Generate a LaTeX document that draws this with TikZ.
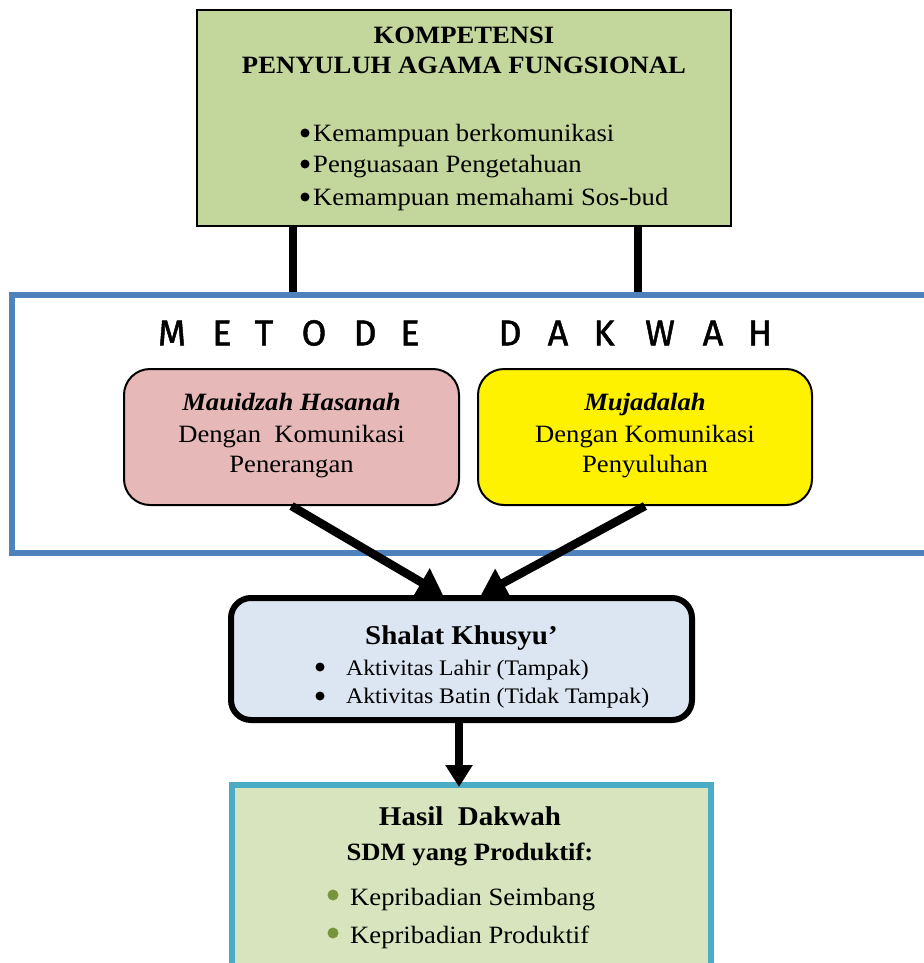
\documentclass[tikz,border=0pt]{standalone}
\usepackage{fontspec}
\setmainfont[FakeStretch=1.07]{Liberation Serif}
\newfontfamily\titlefont[FakeBold=1.3]{Fira Sans}
\usetikzlibrary{arrows.meta}
\definecolor{kgreen}{HTML}{C3D69B}
\definecolor{pinkf}{HTML}{E6B9B8}
\definecolor{frameblue}{HTML}{4F81BD}
\definecolor{shalatf}{HTML}{DCE6F2}
\definecolor{hasilb}{HTML}{4BACC6}
\definecolor{hasilf}{HTML}{D7E4BD}
\definecolor{bulgreen}{HTML}{77933C}
\tikzset{
  box/.style={draw, inner sep=0pt, rectangle},
  txt/.style={inner sep=0pt, font=\fontsize{24.9}{28}\selectfont},
  txtb/.style={inner sep=0pt, font=\fontsize{24.9}{28}\selectfont\bfseries},
  bigtitle/.style={inner sep=0pt, font=\fontsize{27.1}{30}\selectfont\bfseries},
  smalltxt/.style={inner sep=0pt, font=\fontsize{22.2}{26}\selectfont},
  letter/.style={inner sep=0pt, font=\titlefont\fontsize{36}{38}\selectfont},
  dot/.style={circle, fill=black, inner sep=0pt, minimum size=9pt},
  gdot/.style={circle, fill=bulgreen, inner sep=0pt, minimum size=11pt},
  thickline/.style={line width=8pt},
  bigarrow/.style={line width=8.5pt, -{Triangle[width=31pt,length=25pt]}},
}
\begin{document}
\begin{tikzpicture}[x=1pt,y=-1pt]
\useasboundingbox (0,0) rectangle (923,963);

% top competence box
\node[box, line width=2.5pt, fill=kgreen, minimum width=534pt, minimum height=216pt] (kbox) at (464,118) {};
\node[txtb, anchor=base] (k1) at (464,44) {KOMPETENSI};
\node[txtb, anchor=base] (k2) at (464,74) {PENYULUH AGAMA FUNGSIONAL};
\node[dot] (kd1) at (305,133) {};
\node[txt, anchor=base west] (kb1) at (313,141) {Kemampuan berkomunikasi};
\node[dot] (kd2) at (305,164) {};
\node[txt, anchor=base west] (kb2) at (313,172) {Penguasaan Pengetahuan};
\node[dot] (kd3) at (305,197) {};
\node[txt, anchor=base west] (kb3) at (313,205) {Kemampuan memahami Sos-bud};

% method frame
\node[box, draw=frameblue, line width=6pt, minimum width=928pt, minimum height=258pt] (frame) at (476,424) {};
\coordinate (c1) at (293,0);
\coordinate (c2) at (638,0);
\draw[thickline] (kbox.south -| c1) -- (frame.north -| c1);
\draw[thickline] (kbox.south -| c2) -- (frame.north -| c2);

\foreach \ch/\xx [count=\i] in {M/172,E/222,T/264,O/314,D/365,E/410,D/510,A/558,K/604,W/660,A/713,H/760}
  \node[letter] (L\i) at (\xx,333) {\ch};

% pink and yellow boxes
\node[box, line width=2pt, fill=pinkf, rounded corners=26pt, minimum width=335pt, minimum height=136pt] (pink) at (291.5,437) {};
\node[txtb, anchor=base, font=\fontsize{24.9}{28}\selectfont\bfseries\itshape] (p1) at (291.5,410) {Mauidzah Hasanah};
\node[txt, anchor=base] (p2) at (291.5,442) {Dengan\ \ Komunikasi};
\node[txt, anchor=base] (p3) at (291.5,472) {Penerangan};

\node[box, line width=2pt, fill=yellow, rounded corners=26pt, minimum width=334pt, minimum height=136pt] (yel) at (645,437) {};
\node[txtb, anchor=base, font=\fontsize{24.9}{28}\selectfont\bfseries\itshape] (y1) at (645,410) {Mujadalah};
\node[txt, anchor=base] (y2) at (645,442) {Dengan Komunikasi};
\node[txt, anchor=base] (y3) at (645,472) {Penyuluhan};

% shalat box
\node[box, line width=6pt, fill=shalatf, rounded corners=20pt, minimum width=461pt, minimum height=122pt] (shalat) at (461.5,659) {};
\node[bigtitle, anchor=base] (s1) at (461.5,644) {Shalat Khusyu’};
\node[dot] (sb1) at (320,667) {};
\node[smalltxt, anchor=base west] (s2) at (346,675) {Aktivitas Lahir (Tampak)};
\node[dot] (sb2) at (320,696) {};
\node[smalltxt, anchor=base west] (s3) at (346,703) {Aktivitas Batin (Tidak Tampak)};

\coordinate (tl) at (443,0);
\coordinate (tr) at (481,0);
\draw[bigarrow] (pink.south) -- (shalat.north -| tl);
\draw[bigarrow] (yel.south) -- (shalat.north -| tr);

% result box
\node[box, draw=hasilb, line width=6pt, fill=hasilf, minimum width=479pt, minimum height=215pt] (hasil) at (471,892.5) {};
\coordinate (cd) at (459,0);
\draw[line width=8pt, -{Triangle[width=26pt,length=22pt]}] (shalat.south -| cd) -- ([yshift=-5pt]hasil.north -| cd);

\node[bigtitle, anchor=base] (h1) at (470,825) {Hasil\ \ Dakwah};
\node[txtb, anchor=base] (h2) at (470,860) {SDM yang Produktif:};
\node[gdot] (hd1) at (333,895) {};
\node[txt, anchor=base west] (h3) at (350,905) {Kepribadian Seimbang};
\node[gdot] (hd2) at (333,933) {};
\node[txt, anchor=base west] (h4) at (350,943) {Kepribadian Produktif};
\end{tikzpicture}
\end{document}
